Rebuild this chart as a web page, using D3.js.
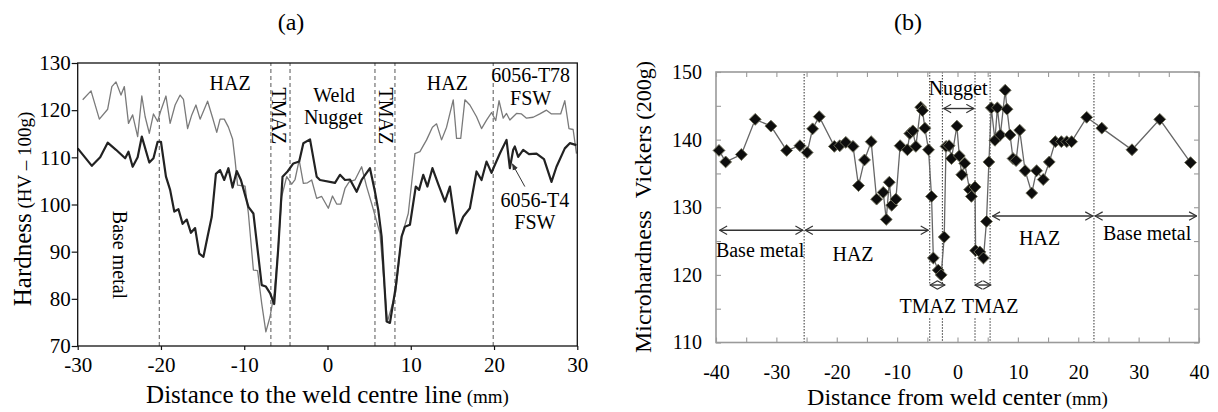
<!DOCTYPE html>
<html><head><meta charset="utf-8">
<script src="https://cdn.jsdelivr.net/npm/d3@7"></script>
<style>
body{margin:0;background:#fff}
svg{display:block}
text{font-family:"Liberation Serif","Times New Roman",serif;fill:#000}
</style>
</head><body>
<svg id="c" width="1218" height="412"></svg>
<script>
// ---------- Panel (a) data ----------
const aXTicks = [-30, -20, -10, 0, 10, 20, 30];
const aYTicks = [70, 80, 90, 100, 110, 120, 130];
const aZoneLines = [-20.2, -6.8, -4.5, 5.7, 8.1, 19.9];
const t78Distance = [-29.4,-28.4,-27.4,-26.4,-25.9,-25.4,-24.8,-24.4,-23.9,-23.4,-22.8,-22.3,-21.9,-21.4,-20.9,-20.4,-20.0,-19.4,-18.9,-18.3,-17.7,-17.3,-16.8,-16.3,-15.8,-15.3,-14.4,-13.8,-13.3,-12.9,-12.4,-11.9,-11.4,-11.1,-10.8,-9.9,-9.5,-8.9,-8.4,-7.9,-7.4,-6.9,-6.4,-6.0,-5.5,-4.9,-4.3,-3.9,-3.4,-2.9,-2.4,-1.9,-1.3,-0.7,0.1,0.6,1.1,1.6,2.1,2.6,3.3,4.1,4.7,5.3,6.3,6.9,7.2,7.7,8.2,8.9,9.7,10.5,11.1,11.9,12.6,13.1,13.7,14.3,15.1,15.5,16.0,16.5,17.1,17.9,18.5,19.1,19.7,20.2,20.6,21.1,21.5,21.9,22.7,23.3,23.9,24.7,25.5,26.3,26.9,27.5,28.0,28.5,29.0,29.5,29.9];
const t78Hardness = [122.2,124.1,118.1,120.2,125.0,126.0,123.2,125.0,117.2,119.0,114.4,123.0,118.6,115.1,119.2,117.6,120.0,123.0,117.2,121.1,123.2,122.3,116.1,119.0,121.1,118.1,121.9,118.4,115.3,118.1,118.1,116.4,113.9,109.4,104.1,103.9,98.1,86.1,86.0,79.0,73.0,76.2,81.2,88.9,101.7,105.9,104.3,105.3,109.4,104.5,104.6,105.2,101.3,101.7,99.2,101.8,100.1,100.1,103.4,104.8,105.2,108.0,103.8,100.2,93.9,81.2,75.2,78.3,81.5,93.2,98.1,110.8,111.2,113.7,116.4,117.1,113.7,116.4,122.2,114.0,114.0,122.2,121.1,118.6,116.1,117.9,119.5,117.8,122.0,118.3,119.3,117.9,119.3,119.2,118.3,118.5,119.2,120.0,119.2,119.2,119.2,122.0,116.1,115.9,110.8];
const t4Distance = [-30.0,-28.3,-27.3,-26.4,-25.4,-24.3,-23.9,-23.4,-22.8,-22.3,-21.4,-20.9,-20.4,-20.0,-19.4,-18.9,-18.4,-17.9,-17.4,-16.9,-16.4,-15.9,-15.4,-14.9,-14.4,-13.9,-13.4,-12.9,-12.4,-11.9,-11.4,-10.9,-10.4,-9.5,-8.9,-7.9,-7.4,-6.9,-6.4,-5.9,-5.4,-4.8,-4.1,-3.4,-2.9,-2.1,-1.3,-0.9,0.9,1.5,2.1,2.7,3.5,4.1,5.1,5.7,6.1,6.5,7.1,7.5,8.2,8.9,9.3,9.9,10.6,11.0,11.5,12.0,12.6,13.3,14.1,14.7,15.5,16.3,17.1,17.9,18.5,19.1,19.7,20.0,20.7,21.5,21.9,22.3,22.5,22.9,23.5,24.2,25.1,26.0,26.9,27.5,28.5,29.1,29.9];
const t4Hardness = [111.9,108.2,110.0,113.1,111.6,109.8,111.2,108.0,110.0,114.4,108.9,109.8,113.3,113.3,105.9,103.1,98.5,99.0,95.9,96.8,94.0,95.0,89.6,88.9,93.2,97.4,106.5,107.3,105.2,107.7,103.6,107.1,105.2,99.5,98.1,82.9,82.6,81.2,78.9,91.1,105.9,107.0,108.7,109.1,113.0,113.8,105.9,105.2,104.6,106.3,105.2,105.3,102.7,105.2,107.7,102.7,98.8,93.2,75.2,74.9,82.6,93.2,95.3,95.7,103.8,103.1,106.3,103.8,107.7,104.3,100.6,103.8,93.9,97.4,99.2,107.0,105.2,109.1,106.7,108.0,110.8,113.7,107.7,111.6,112.3,110.1,111.6,110.7,110.8,109.6,104.8,108.0,111.9,113.0,112.6];

// ---------- Panel (b) data ----------
const bXTicks = [-40, -30, -20, -10, 0, 10, 20, 30, 40];
const bYTicks = [110, 120, 130, 140, 150];
const bMinorX = [-40,-35,-30,-25,-20,-15,-10,-5,0,5,10,15,20,25,30,35,40];
const bMinorY = [110,115,120,125,130,135,140,145,150];
const bOuterLines = [-25.4, 22.6];
const bInnerLines = [-4.6, -2.5, 2.9, 5.4];
const bDistance = [-39.5,-38.4,-35.8,-33.5,-30.9,-28.3,-26.1,-24.9,-24.0,-22.9,-20.4,-19.5,-18.5,-17.3,-16.4,-15.4,-14.3,-13.4,-12.3,-11.8,-11.3,-10.9,-10.2,-9.5,-8.3,-7.9,-7.4,-6.9,-6.1,-5.8,-5.4,-4.8,-4.3,-4.0,-3.2,-2.7,-2.2,-1.9,-1.4,-1.0,-0.1,0.3,0.7,1.2,2.0,2.3,2.9,3.0,3.7,4.3,4.8,5.2,5.6,6.2,6.6,7.1,7.9,8.2,8.7,9.2,9.7,10.3,11.2,12.3,13.1,14.2,15.2,16.2,17.2,18.1,18.9,21.4,23.9,28.9,33.5,38.6];
const bHardness = [138.4,136.7,137.8,143.0,142.0,138.4,139.1,138.1,141.6,143.4,139.0,139.1,139.6,139.0,133.2,137.0,139.7,131.2,132.2,128.2,133.7,130.3,131.2,139.1,138.5,140.9,141.3,139.0,144.8,144.3,141.7,138.5,131.6,122.5,120.7,120.0,125.6,139.0,139.1,137.2,142.0,137.6,134.8,136.5,132.6,131.6,133.0,123.6,123.4,122.5,127.9,136.7,144.7,139.9,144.7,140.7,147.3,144.5,140.7,137.2,136.9,141.4,135.4,132.1,135.4,134.1,136.7,139.7,139.7,139.7,139.7,143.3,141.7,138.5,143.0,136.6];

const svg = d3.select('#c');
const defs = svg.append('defs');
defs.append('marker').attr('id','solidHead').attr('viewBox','0 -5 10 10')
  .attr('refX',9).attr('refY',0).attr('markerWidth',7).attr('markerHeight',7)
  .attr('markerUnits','userSpaceOnUse').attr('orient','auto')
  .append('path').attr('d','M0,-4L10,0L0,4Z').attr('fill','#333');
defs.append('marker').attr('id','vHead').attr('viewBox','-1 -6 12 12')
  .attr('refX',10).attr('refY',0).attr('markerWidth',10).attr('markerHeight',10)
  .attr('markerUnits','userSpaceOnUse').attr('orient','auto-start-reverse')
  .append('path').attr('d','M1,-5L10,0L1,5').attr('fill','none').attr('stroke','#333').attr('stroke-width',1.4);

// ================= Panel (a) =================
const ax = d3.scaleLinear().domain([-30, 30]).range([77.7, 577.3]);
const ay = d3.scaleLinear().domain([70, 130]).range([346, 63]);
const gA = svg.append('g');

gA.append('text').attr('x', 291).attr('y', 30).attr('text-anchor','middle').attr('font-size',24).text('(a)');

aZoneLines.forEach(v => {
  gA.append('line').attr('x1',ax(v)).attr('x2',ax(v)).attr('y1',ay(70)).attr('y2',ay(130))
    .attr('stroke','#666').attr('stroke-width',1.1).attr('stroke-dasharray','4,3');
});

const lineA = d3.line().x(d => ax(d[0])).y(d => ay(d[1]));
gA.append('path').datum(t78Distance.map((d,i)=>[d,t78Hardness[i]]))
  .attr('d', lineA).attr('fill','none').attr('stroke','#7a7a7a').attr('stroke-width',1.3).attr('stroke-linejoin','round');
gA.append('path').datum(t4Distance.map((d,i)=>[d,t4Hardness[i]]))
  .attr('d', lineA).attr('fill','none').attr('stroke','#222').attr('stroke-width',2.2).attr('stroke-linejoin','round');

gA.append('rect').attr('x',ax(-30)).attr('y',ay(130)).attr('width',ax(30)-ax(-30)).attr('height',ay(70)-ay(130))
  .attr('fill','none').attr('stroke','#111').attr('stroke-width',1.3);

const axB = gA.append('g').attr('transform',`translate(0,${ay(70)})`)
  .call(d3.axisBottom(ax).tickValues(aXTicks).tickSize(4).tickPadding(7).tickFormat(d => String(d)));
const axL = gA.append('g').attr('transform',`translate(${ax(-30)},0)`)
  .call(d3.axisLeft(ay).tickValues(aYTicks).tickSize(6).tickPadding(1).tickFormat(d => String(d)));
[axB, axL].forEach(g => {
  g.select('.domain').remove();
  g.selectAll('line').attr('stroke','#111').attr('stroke-width',1.2);
  g.selectAll('text').attr('font-size',21).attr('font-family','"Liberation Serif",serif').attr('fill','#000');
});

// annotations (a)
const annA = [
  {t:'HAZ', x:-11.7, y:124.3}, {t:'HAZ', x:14.4, y:124.3},
  {t:'Weld', x:0.8, y:121.8}, {t:'Nugget', x:0.7, y:117.0},
  {t:'6056-T78', x:24.4, y:126.0}, {t:'FSW', x:24.4, y:121.1},
  {t:'6056-T4', x:24.9, y:99.5}, {t:'FSW', x:24.9, y:94.7}
];
annA.forEach(a => gA.append('text').attr('x',ax(a.x)).attr('y',ay(a.y)).attr('text-anchor','middle')
  .attr('font-size',20).text(a.t));
const rotA = [{t:'TMAZ', x:-5.8, y:118.8}, {t:'TMAZ', x:7.0, y:118.8}, {t:'Base metal', x:-24.9, y:89.3}];
rotA.forEach(a => gA.append('text').attr('transform',`translate(${ax(a.x)},${ay(a.y)}) rotate(90)`)
  .attr('text-anchor','middle').attr('dominant-baseline','central').attr('font-size',20).text(a.t));
gA.append('line').attr('x1',ax(23.7)).attr('y1',ay(103.8)).attr('x2',ax(22.2)).attr('y2',ay(108.6))
  .attr('stroke','#333').attr('stroke-width',1).attr('marker-end','url(#solidHead)');

// axis titles (a)
const ytA = gA.append('text').attr('transform','translate(31,209) rotate(-90)').attr('text-anchor','middle');
ytA.append('tspan').attr('font-size',25).text('Hardness');
ytA.append('tspan').attr('font-size',19).text(' (HV – 100g)');
const xtA = gA.append('text').attr('x',(ax(-30)+ax(30))/2).attr('y',403).attr('text-anchor','middle');
xtA.append('tspan').attr('font-size',25).text('Distance to the weld centre line');
xtA.append('tspan').attr('font-size',19).text(' (mm)');

// ================= Panel (b) =================
const bx = d3.scaleLinear().domain([-40, 40]).range([716, 1199]);
const by = d3.scaleLinear().domain([110, 150]).range([342.5, 72]);
const gB = svg.append('g');

gB.append('text').attr('x', 908).attr('y', 30).attr('text-anchor','middle').attr('font-size',24).text('(b)');

// zone lines
bOuterLines.forEach(v => gB.append('line').attr('x1',bx(v)).attr('x2',bx(v)).attr('y1',by(110)).attr('y2',by(150))
  .attr('stroke','#444').attr('stroke-width',1.1).attr('stroke-dasharray','1.5,1.5'));
bInnerLines.forEach(v => {
  [[150,118.5],[113.6,110]].forEach(s => gB.append('line').attr('x1',bx(v)).attr('x2',bx(v))
    .attr('y1',by(s[0])).attr('y2',by(s[1])).attr('stroke','#444').attr('stroke-width',1.1).attr('stroke-dasharray','1.5,1.5'));
});

// frame & ticks
gB.append('rect').attr('x',bx(-40)).attr('y',by(150)).attr('width',bx(40)-bx(-40)).attr('height',by(110)-by(150))
  .attr('fill','none').attr('stroke','#9a9a9a').attr('stroke-width',1.6);
const bAxes = [
  gB.append('g').attr('transform',`translate(0,${by(150)})`).call(d3.axisTop(bx).tickValues(bMinorX).tickSize(-5).tickFormat('')),
  gB.append('g').attr('transform',`translate(${bx(40)},0)`).call(d3.axisRight(by).tickValues(bMinorY).tickSize(-5).tickFormat('')),
  gB.append('g').attr('transform',`translate(0,${by(110)})`).call(d3.axisBottom(bx).tickValues(bMinorX).tickSize(-5).tickFormat('')),
  gB.append('g').attr('transform',`translate(${bx(-40)},0)`).call(d3.axisLeft(by).tickValues(bMinorY).tickSize(-5).tickFormat('')),
  gB.append('g').attr('transform',`translate(0,${by(110)})`).call(d3.axisBottom(bx).tickValues(bXTicks).tickSize(0).tickPadding(22).tickFormat(d => String(d))),
  gB.append('g').attr('transform',`translate(${bx(-40)},0)`).call(d3.axisLeft(by).tickValues(bYTicks).tickSize(0).tickPadding(14).tickFormat(d => String(d)))
];
bAxes.forEach(g => {
  g.select('.domain').remove();
  g.selectAll('line').attr('stroke','#9a9a9a').attr('stroke-width',1.1);
  g.selectAll('text').attr('font-size',20).attr('font-family','"Liberation Serif",serif').attr('fill','#000');
});

// data line & markers
const pts = bDistance.map((d,i)=>[d,bHardness[i]]);
gB.append('path').datum(pts).attr('d', d3.line().x(d=>bx(d[0])).y(d=>by(d[1])))
  .attr('fill','none').attr('stroke','#666').attr('stroke-width',1.3);
const diamond = d3.symbol().type(d3.symbolSquare).size(70)();
gB.selectAll('path.pt').data(pts).join('path').attr('class','pt').attr('d',diamond)
  .attr('transform',d=>`translate(${bx(d[0])},${by(d[1])}) rotate(45)`)
  .attr('fill','#0d0d0d').attr('stroke','#6d6d58').attr('stroke-width',0.9);

// arrows
const bArrows = [[-39.4,-25.6,126.6],[-25.2,-4.85,126.6],[5.8,22.4,128.7],[22.8,39.6,128.7],[-2.3,2.7,144.6],[-4.55,-2.1,118.5],[2.9,5.5,118.5]];
bArrows.forEach(a => gB.append('line').attr('x1',bx(a[0])).attr('x2',bx(a[1])).attr('y1',by(a[2])).attr('y2',by(a[2]))
  .attr('stroke','#333').attr('stroke-width',1.4).attr('marker-start','url(#vHead)').attr('marker-end','url(#vHead)'));

// annotations (b)
const annB = [
  {t:'Base metal', x:-32.7, y:122.6}, {t:'HAZ', x:-17.3, y:122.1},
  {t:'Nugget', x:0.1, y:146.6}, {t:'TMAZ', x:-4.9, y:114.3}, {t:'TMAZ', x:5.4, y:114.3},
  {t:'HAZ', x:13.6, y:124.4}, {t:'Base metal', x:31.4, y:125.2}
];
annB.forEach(a => gB.append('text').attr('x',bx(a.x)).attr('y',by(a.y)).attr('text-anchor','middle')
  .attr('font-size',20).text(a.t));

// axis titles (b)
const ytB = gB.append('text').attr('transform','translate(651,207) rotate(-90)').attr('text-anchor','middle');
ytB.append('tspan').attr('font-size',24).text('Microhardness\u00a0\u00a0Vickers');
ytB.append('tspan').attr('font-size',22).text(' (200g)');
const xtB = gB.append('text').attr('x',(bx(-40)+bx(40))/2).attr('y',405).attr('text-anchor','middle');
xtB.append('tspan').attr('font-size',24).text('Distance from weld center');
xtB.append('tspan').attr('font-size',19).text(' (mm)');
</script>
</body></html>
